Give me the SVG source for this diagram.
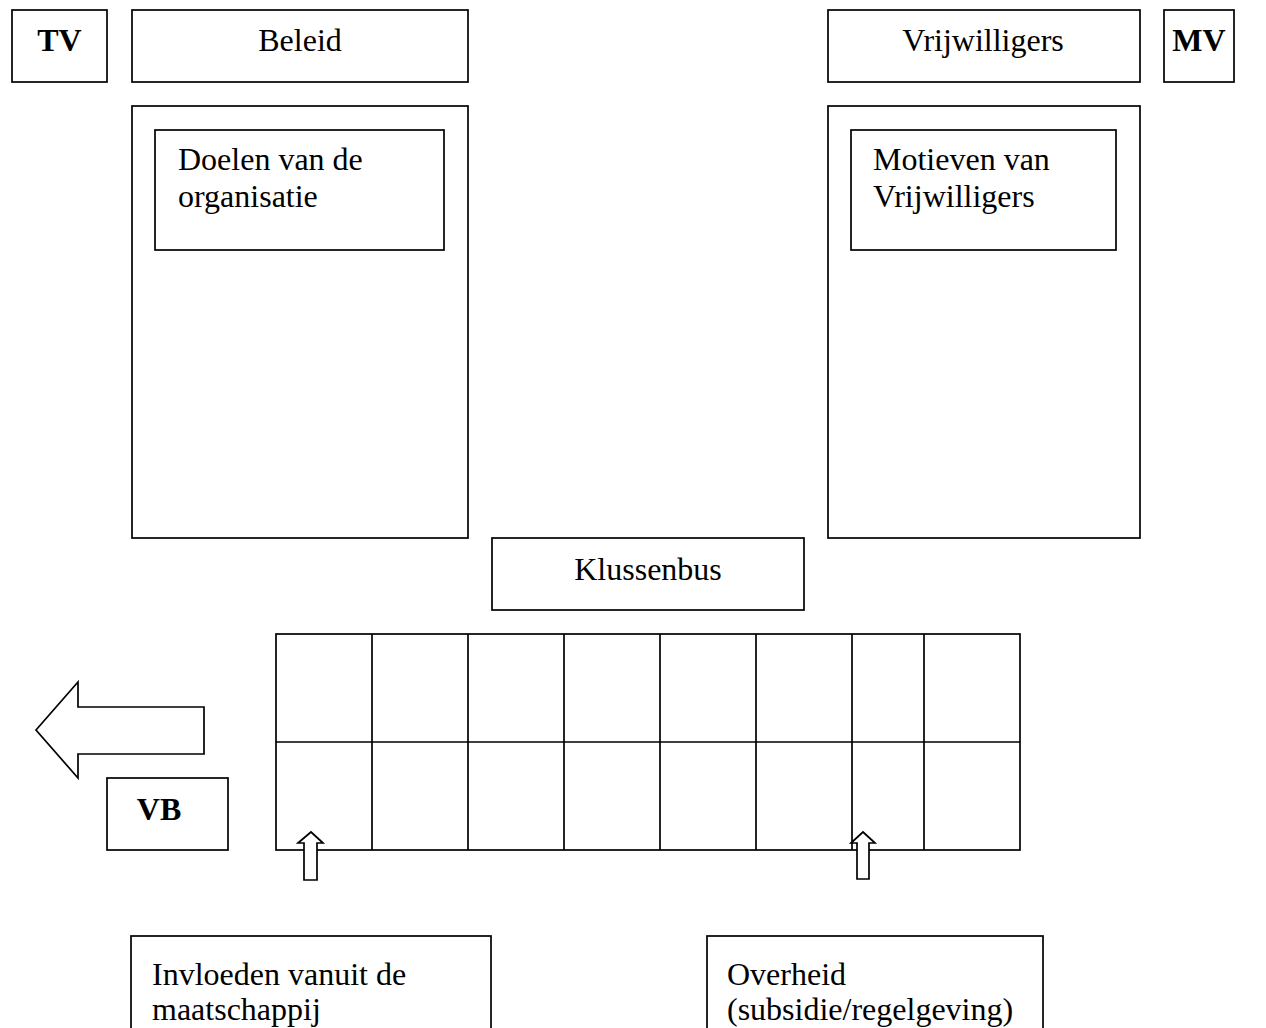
<svg xmlns="http://www.w3.org/2000/svg" width="1266" height="1028" viewBox="0 0 1266 1028">
<style>
.b{fill:#fff;stroke:#000;stroke-width:1.7}
.l{fill:none;stroke:#000;stroke-width:1.7}
.t{font-family:"Liberation Serif","Times New Roman",serif;font-size:32px;fill:#000}
.bold{font-weight:bold}
.c{text-anchor:middle}
</style>
<rect width="1266" height="1028" fill="#fff"/>
<g id="tv"><rect class="b" x="12" y="10" width="95" height="72"/><text class="t bold c" x="59.5" y="51">TV</text></g>
<g id="beleid"><rect class="b" x="132" y="10" width="336" height="72"/><text class="t c" x="300" y="51">Beleid</text></g>
<g id="vrijwilligers"><rect class="b" x="828" y="10" width="312" height="72"/><text class="t c" x="983" y="51">Vrijwilligers</text></g>
<g id="mv"><rect class="b" x="1164" y="10" width="70" height="72"/><text class="t bold c" x="1199" y="51">MV</text></g>
<g id="beleid-panel"><rect class="b" x="132" y="106" width="336" height="432"/>
<g id="doelen"><rect class="b" x="155" y="130" width="289" height="120"/><text class="t" x="178" y="170">Doelen van de</text><text class="t" x="178" y="207">organisatie</text></g></g>
<g id="vrijwilligers-panel"><rect class="b" x="828" y="106" width="312" height="432"/>
<g id="motieven"><rect class="b" x="851" y="130" width="265" height="120"/><text class="t" x="873" y="170">Motieven van</text><text class="t" x="873" y="207">Vrijwilligers</text></g></g>
<g id="klussenbus"><rect class="b" x="492" y="538" width="312" height="72"/><text class="t c" x="648" y="580">Klussenbus</text></g>
<g id="grid"><rect class="b" x="276" y="634" width="744" height="216"/>
<path class="l" d="M276 742H1020M372 634V850M468 634V850M564 634V850M660 634V850M756 634V850M852 634V850M924 634V850"/></g>
<g id="vb"><rect class="b" x="107" y="778" width="121" height="72"/><text class="t bold c" x="159" y="820">VB</text></g>
<g id="connectors">
<path class="b" d="M36 730L78 682V707H204V754H78V778Z"/>
<path class="b" d="M311 832L323 843H317V880H304V843H298Z"/>
<path class="b" d="M863 832L875 843H869V879H857V843H851Z"/>
</g>
<g id="invloeden"><rect class="b" x="131" y="936" width="360" height="110"/><text class="t" x="152" y="985">Invloeden vanuit de</text><text class="t" x="152" y="1020">maatschappij</text></g>
<g id="overheid"><rect class="b" x="707" y="936" width="336" height="110"/><text class="t" x="727" y="985">Overheid</text><text class="t" x="727" y="1020">(subsidie/regelgeving)</text></g>
</svg>
